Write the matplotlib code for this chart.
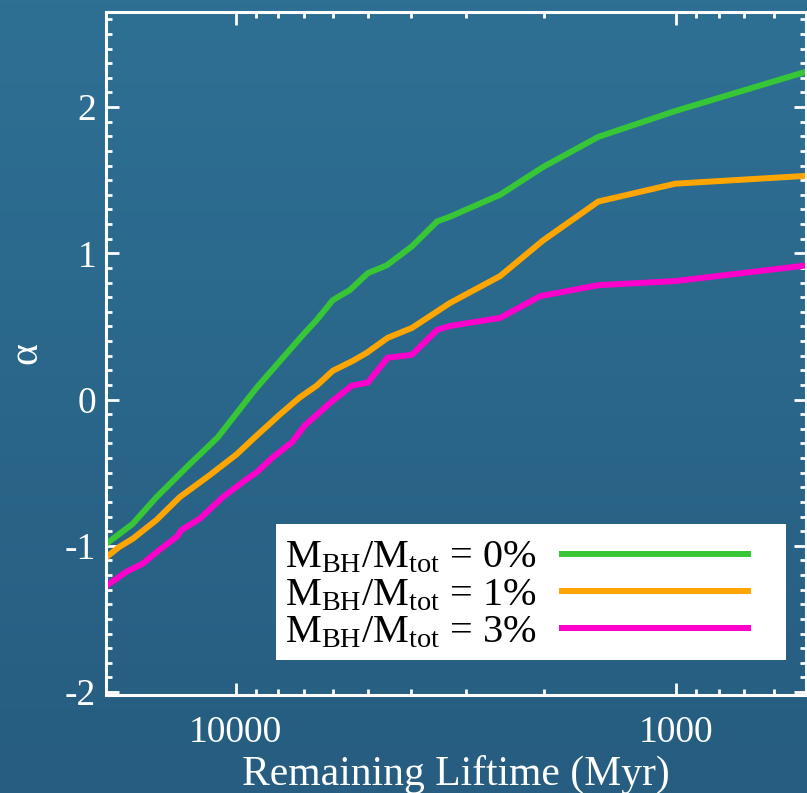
import numpy as np
import matplotlib
matplotlib.use("Agg")
import matplotlib.pyplot as plt
from matplotlib.patches import Rectangle
from matplotlib.ticker import FixedLocator, FuncFormatter, MultipleLocator

plt.rcParams['font.family'] = ['Liberation Serif', 'DejaVu Serif']
plt.rcParams['mathtext.fontset'] = 'custom'
plt.rcParams['mathtext.rm'] = 'Liberation Serif'
plt.rcParams['mathtext.it'] = 'Liberation Serif:italic'
plt.rcParams['axes.unicode_minus'] = False

# remaining lifetime (Myr) and alpha for each black-hole mass fraction
t_0 = [19750, 17140, 15130, 12720, 10990, 10050, 8960, 7040, 6550, 6020,
       5510, 5015, 4540, 3980, 3490, 3265, 2512, 2006, 1503, 1005, 503]
a_0 = [-0.99, -0.85, -0.667, -0.442, -0.259, -0.109, 0.082, 0.442, 0.544, 0.68,
       0.748, 0.864, 0.918, 1.048, 1.218, 1.25, 1.40, 1.59, 1.796, 1.973, 2.245]

t_1 = [19630, 18370, 17140, 15130, 13400, 11460, 9950, 9060, 7940, 7160, 6550,
       6020, 5420, 5040, 4520, 3980, 3265, 2512, 2006, 1503, 1005, 503]
a_1 = [-1.075, -1.007, -0.952, -0.823, -0.667, -0.517, -0.374, -0.259, -0.102,
       0.014, 0.095, 0.197, 0.265, 0.32, 0.422, 0.49, 0.66, 0.844, 1.088, 1.354,
       1.476, 1.53]

t_3 = [19630, 17700, 16260, 14890, 13620, 13270, 12080, 10700, 9440, 8960, 8240,
       7460, 6970, 6020, 5450, 5015, 4520, 3980, 3490, 3265, 2512, 2036, 1503,
       1005, 503]
a_3 = [-1.272, -1.177, -1.122, -1.027, -0.939, -0.891, -0.816, -0.667, -0.544,
       -0.497, -0.395, -0.293, -0.177, -0.007, 0.095, 0.116, 0.286, 0.306, 0.476,
       0.503, 0.558, 0.707, 0.782, 0.81, 0.918]

labels = [r'M$_\mathrm{BH}$/M$_\mathrm{tot}$ = 0%',
          r'M$_\mathrm{BH}$/M$_\mathrm{tot}$ = 1%',
          r'M$_\mathrm{BH}$/M$_\mathrm{tot}$ = 3%']
colors = ['#36c636', '#ffa500', '#ff00cc']

fig = plt.figure(figsize=(8.07, 7.93), dpi=100)

# gradient background
bg = fig.add_axes([0, 0, 1, 1], zorder=-10)
top = np.array([46, 112, 148]) / 255
bot = np.array([38, 93, 128]) / 255
g = np.linspace(0, 1, 256)[:, None, None]
grad = top * (1 - g) + bot * g
bg.imshow(np.repeat(grad, 2, axis=1), aspect='auto', extent=[0, 1, 0, 1])
bg.axis('off')

ax = fig.add_axes([0.1314, 0.1236, 0.8676, 0.8613])
ax.patch.set_alpha(0)

for t, a, c, lab in zip([t_0, t_1, t_3], [a_0, a_1, a_3], colors, labels):
    ax.plot(t, a, color=c, lw=4.3, label=lab, solid_joinstyle='miter')

ax.set_xscale('log')
ax.set_xlim(19700, 507)
ax.set_ylim(-2.02, 2.65)

ax.xaxis.set_major_locator(FixedLocator([10000, 1000]))
ax.xaxis.set_major_formatter(FuncFormatter(lambda v, p: f'{int(round(v))}'))
ax.yaxis.set_major_locator(MultipleLocator(1))
ax.yaxis.set_minor_locator(MultipleLocator(0.1))
ax.yaxis.set_major_formatter(FuncFormatter(lambda v, p: f'{int(round(v))}'))

for s in ax.spines.values():
    s.set_color('white')
    s.set_linewidth(2.2)
ax.tick_params(which='both', direction='in', colors='white', top=True, right=True,
               width=2.0, labelsize=27)
ax.tick_params(which='major', length=9)
ax.tick_params(which='minor', length=4.5)
ax.tick_params(axis='x', pad=15)
ax.tick_params(axis='y', pad=7)

ax.set_xlabel('Remaining Liftime (Myr)', color='white', fontsize=30, labelpad=3)
ax.set_ylabel('α', color='white', fontsize=30, labelpad=14)

# white legend box (drawn separately so it can be wider than the entries)
ax.add_patch(Rectangle((0.2429, 0.0512), 0.7285, 0.1992, transform=ax.transAxes,
                       facecolor='white', edgecolor='none', zorder=4))
leg = ax.legend(loc='center right', bbox_to_anchor=(0.917, 0.146), borderaxespad=0,
                fontsize=29, markerfirst=False, frameon=False, handlelength=4.62,
                handletextpad=0.65, labelspacing=0.0, borderpad=0)
leg.set_zorder(5)

fig.savefig('out.png', dpi=100)
